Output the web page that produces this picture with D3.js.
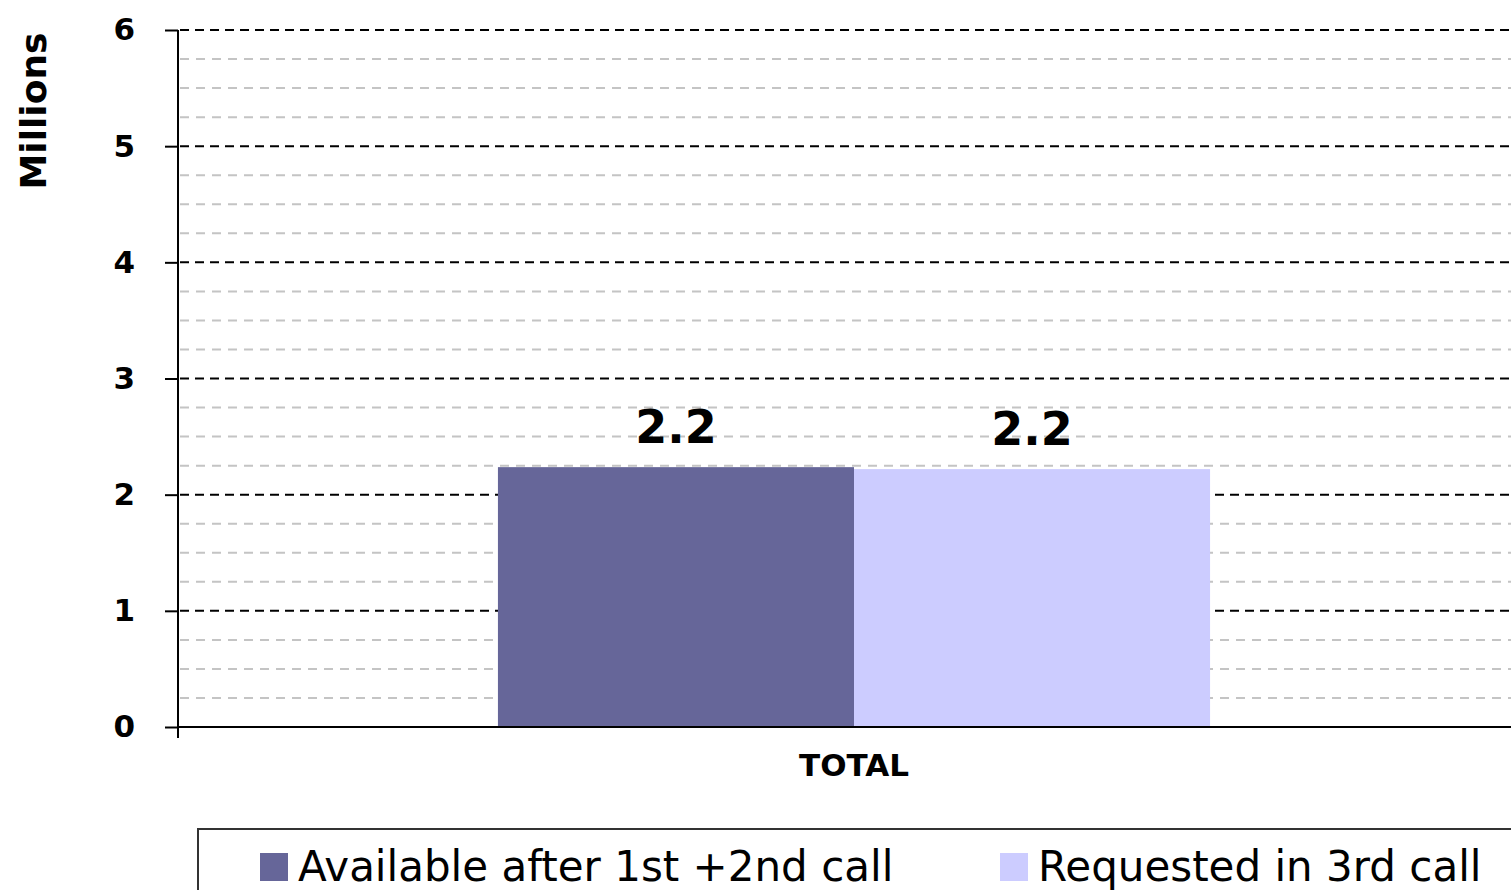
<!DOCTYPE html>
<html>
<head>
<meta charset="utf-8">
<script src="https://cdn.jsdelivr.net/npm/d3@7"></script>
<style>
  body { margin: 0; background: #fff; }
  svg { display: block; font-family: "DejaVu Sans", Verdana, sans-serif; }
</style>
</head>
<body>
<div id="chart"></div>
<script>
// chart data
const categories = ["TOTAL"];
const seriesNames = ["Available after 1st +2nd call", "Requested in 3rd call"];
const seriesColors = ["#666699", "#ccccff"];
const seriesValues = [[2.237], [2.22]];   // millions, one array per series
const yTicks = [0, 1, 2, 3, 4, 5, 6];

const width = 1511;
const height = 890;

const svg = d3.select("#chart").append("svg")
    .attr("width", width)
    .attr("height", height);

// scales
const y = d3.scaleLinear().domain([0, 6]).range([727, 30]);
const x0 = d3.scaleBand().domain(categories).range([178, 1530]).padding(0.31);
const x1 = d3.scaleBand().domain(seriesNames).range([0, x0.bandwidth()]);

// minor gridlines every 0.25
const minor = d3.range(0.25, 6, 0.25).filter(v => Math.abs(v - Math.round(v)) > 0.01);
svg.append("g").selectAll("line")
    .data(minor)
    .enter().append("line")
    .attr("x1", 180).attr("x2", width)
    .attr("y1", d => y(d)).attr("y2", d => y(d))
    .attr("stroke", "#c4c4c4")
    .attr("stroke-width", 2)
    .attr("stroke-dasharray", "9,7");

// major gridlines
svg.append("g").selectAll("line")
    .data(yTicks.filter(d => d > 0))
    .enter().append("line")
    .attr("x1", 180).attr("x2", width)
    .attr("y1", d => y(d)).attr("y2", d => y(d))
    .attr("stroke", "#000")
    .attr("stroke-width", 2)
    .attr("stroke-dasharray", "9,6");

// bars
const groups = svg.append("g").selectAll("g")
    .data(categories)
    .enter().append("g")
    .attr("transform", d => `translate(${x0(d)},0)`);

groups.selectAll("rect")
    .data((d, i) => seriesNames.map((s, j) => ({ s: s, v: seriesValues[j][i], c: seriesColors[j] })))
    .enter().append("rect")
    .attr("x", d => x1(d.s))
    .attr("width", x1.bandwidth())
    .attr("y", d => y(d.v))
    .attr("height", d => y(0) - y(d.v))
    .attr("fill", d => d.c);

// value labels
groups.selectAll("text")
    .data((d, i) => seriesNames.map((s, j) => ({ s: s, v: seriesValues[j][i] })))
    .enter().append("text")
    .attr("x", d => x1(d.s) + x1.bandwidth() / 2)
    .attr("y", d => y(d.v) - 24)
    .attr("text-anchor", "middle")
    .attr("font-size", 46)
    .attr("font-weight", "bold")
    .text(d => d3.format(".1f")(d.v));

// y axis
const yAxis = d3.axisLeft(y).tickValues(yTicks).tickSize(13).tickPadding(30).tickFormat(d3.format("d"));
const yg = svg.append("g").attr("transform", "translate(178,0)").call(yAxis);
yg.select(".domain").remove();
yg.selectAll(".tick line").attr("stroke", "#000").attr("stroke-width", 2);
yg.selectAll(".tick text")
    .attr("font-family", "DejaVu Sans, Verdana, sans-serif")
    .attr("font-size", 31)
    .attr("font-weight", "bold")
    .attr("fill", "#000");

// axis lines
svg.append("line")
    .attr("x1", 178).attr("x2", 178)
    .attr("y1", y(6)).attr("y2", 738)
    .attr("stroke", "#000").attr("stroke-width", 2);
svg.append("line")
    .attr("x1", 178).attr("x2", width)
    .attr("y1", y(0)).attr("y2", y(0))
    .attr("stroke", "#000").attr("stroke-width", 2);

// category label
svg.append("g").selectAll("text")
    .data(categories)
    .enter().append("text")
    .attr("x", d => x0(d) + x0.bandwidth() / 2)
    .attr("y", 776)
    .attr("text-anchor", "middle")
    .attr("font-size", 31)
    .attr("font-weight", "bold")
    .text(d => d);

// y title
svg.append("text")
    .attr("transform", "translate(46,111) rotate(-90)")
    .attr("text-anchor", "middle")
    .attr("font-size", 36)
    .attr("font-weight", "bold")
    .text("Millions");

// legend
svg.append("rect")
    .attr("x", 198).attr("y", 829)
    .attr("width", 1400).attr("height", 100)
    .attr("fill", "none")
    .attr("stroke", "#333")
    .attr("stroke-width", 2);

const legendX = [260, 1000];
const leg = svg.append("g").selectAll("g")
    .data(seriesNames)
    .enter().append("g")
    .attr("transform", (d, i) => `translate(${legendX[i]},853)`);
leg.append("rect")
    .attr("width", 28).attr("height", 28)
    .attr("fill", (d, i) => seriesColors[i]);
leg.append("text")
    .attr("x", 38).attr("y", 28)
    .attr("font-size", 42)
    .text(d => d);
</script>
</body>
</html>
